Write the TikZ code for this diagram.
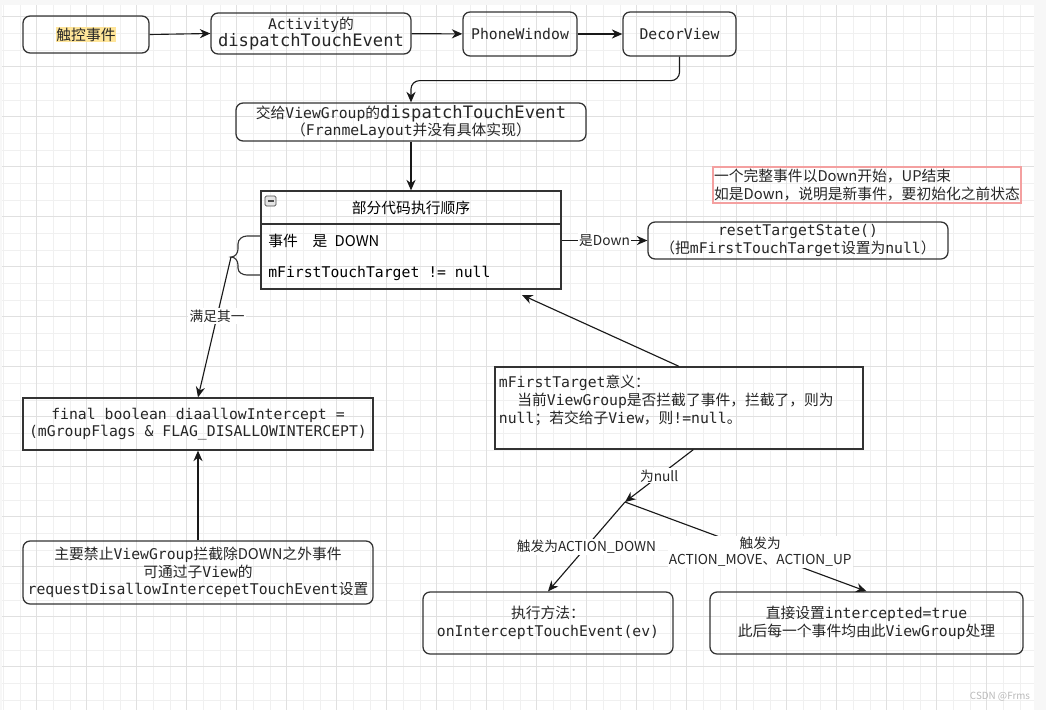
\documentclass[tikz,border=0pt]{standalone}
\usepackage{fontspec}
\setmainfont{Noto Sans CJK SC}
\setmonofont{DejaVu Sans Mono}
\usepackage{xcolor}
\usepackage{tikz}
\usetikzlibrary{arrows.meta,positioning,calc}
\definecolor{hl}{RGB}{255,229,153}
\definecolor{notered}{RGB}{244,160,160}
\definecolor{ln}{RGB}{51,51,51}
\newcommand{\bigtt}[1]{{\fontsize{12.2}{14}\selectfont\ttfamily #1}}

\begin{document}
\begin{tikzpicture}[
  x=0.025cm, y=-0.025cm,
  font=\fontsize{10.5}{12.5}\selectfont,
  box/.style={draw=ln, line width=0.9pt, inner sep=0pt, align=center, text=black!85},
  sz/.style 2 args={minimum width=#1*0.025cm, minimum height=#2*0.025cm},
  rbox/.style={box, rounded corners=5pt},
  sbox/.style={box},
  lbl/.style={fill=white, inner sep=1pt, text=black!85, align=center, font=\fontsize{9.75}{11.5}\selectfont},
  minorln/.style={gray!12, line width=0.5pt},
  majorln/.style={gray!24, line width=0.5pt},
  >={Stealth[length=7.5pt, width=6.5pt]},
  conn/.style={draw=black!90, line width=0.8pt},
]
% canvas
\path[use as bounding box, fill=gray!6] (0,0) rectangle (1046,710);
\fill[white] (2,5) rectangle (1034,710);
\foreach \i in {0,...,61} \draw[minorln] ({3.333+16.667*\i},5) -- ++(0,705);
\foreach \k in {1,...,42} \draw[minorln] (2,{16.667*\k}) -- ++(1032,0);
\foreach \i in {0,...,19} \draw[majorln] ({36.667+50*\i},5) -- ++(0,705);
\foreach \k in {0,...,13} \draw[majorln] (2,{16.667+50*\k}) -- ++(1032,0);

% top row
\node[rbox, sz={126}{37}] (touch) at (86,34.5) {{\fboxsep=0.5pt\colorbox{hl}{触控事件}}};
\node[rbox, sz={200}{41}] (act) at (311,33.5) {\texttt{Activity}的\\\bigtt{dispatchTouchEvent}};
\node[rbox, sz={114}{44}] (phone) at (520,34) {\texttt{PhoneWindow}};
\node[rbox, sz={113}{44}] (decor) at (679.5,34) {\texttt{DecorView}};
\node[rbox, sz={350}{38}] (vg) at (411,122)
  {交给\texttt{ViewGroup}的\bigtt{dispatchTouchEvent}\\（\texttt{FranmeLayout}并没有具体实现）};

% code order list
\node[sbox, sz={300}{98}] (list) at (411,240) {};
\draw[ln, line width=0.9pt] (list.west |- 0,224) -- (list.east |- 0,224);
\draw[gray!60!black, fill=gray!20, rounded corners=1pt, line width=0.5pt] (265,196) rectangle (276,206);
\draw[black!70, line width=0.8pt] (267.5,201) -- (273.5,201);
\node (lhead) at (411,208) {部分代码执行顺序};
\node[anchor=west, inner sep=0pt] (row1) at (268,241) {事件\quad 是\enspace DOWN};
\node[anchor=west, inner sep=0pt] (row2) at (268,273) {\texttt{mFirstTouchTarget != null}};

\node[rbox, sz={300}{37}] (reset) at (798,240.5)
  {\texttt{resetTargetState()}\\（把\texttt{mFirstTouchTarget}设置为\texttt{null}）};
\node[box, draw=notered, line width=1pt, align=left, sz={308}{36}] (note) at (867,185)
  {一个完整事件以Down开始，UP结束\\如是Down，说明是新事件，要初始化之前状态};

\node[sbox, sz={350}{52}] (final) at (198,424)
  {\texttt{final boolean diaallowIntercept =}\\\texttt{(mGroupFlags \& FLAG\_DISALLOWINTERCEPT)}};
\node[rbox, sz={350}{63}] (req) at (198,572.5)
  {主要禁止\texttt{ViewGroup}拦截除DOWN之外事件\\可通过子\texttt{View}的\\\texttt{requestDisallowIntercepetTouchEvent}设置};

\node[sbox, align=left, text width=9cm, sz={368}{82}] (mean) at (679,408)
  {\texttt{mFirstTarget}意义：\\\hspace*{1.25em}当前\texttt{ViewGroup}是否拦截了事件，拦截了，则为\\\texttt{null}；若交给子\texttt{View}，则\texttt{!=null}。\\ ~};

\node[rbox, sz={250}{62}] (onint) at (548,623) {执行方法：\\\texttt{onInterceptTouchEvent(ev)}};
\node[rbox, sz={313}{62}] (direct) at (866.5,623)
  {直接设置\texttt{intercepted=true}\\此后每一个事件均由此\texttt{ViewGroup}处理};

% brace
\coordinate (brtip) at (231,257);
\draw[ln, line width=0.8pt] (list.west |- 0,236) -- (247,236) to[out=180,in=90] (238,244) -- (238,249)
  to[out=-90,in=0] (brtip) to[out=0,in=90] (238,265) -- (238,268) to[out=-90,in=180] (247,275) -- (list.west |- 0,275);

% connectors
\draw[conn, ->] (touch.east) -- (act.west);
\draw[conn, ->] (act) -- (phone);
\draw[conn, ->] (phone) -- (decor);
\draw[conn, ->, rounded corners=6pt] (decor.south) -- ++(0,24) -| (vg.north);
\draw[conn, ->] (vg) -- (list);
\draw[conn, ->] (list.east |- reset.west) -- node[lbl] {是Down} (reset.west);
\draw[conn, ->] (brtip) -- node[lbl, pos=0.42] {满足其一} (final.north);
\draw[conn, ->] (req) -- (final);
\coordinate (lsink) at (522,295);
\draw[conn, ->] (mean.north) -- (lsink);
\coordinate (split) at (625,502);
\draw[conn, ->] (mean.-71) -- node[lbl] {为null} (split);
\draw[conn, ->] (split) -- node[lbl] {触发为ACTION\_DOWN} (onint.north);
\draw[conn, ->] (split) -- node[lbl, pos=0.56] {触发为\\ACTION\_MOVE、ACTION\_UP} (direct.north);

\node[text=gray!55, font=\fontsize{7}{8}\selectfont] (wm) at (1000,697) {CSDN @Frms};
\end{tikzpicture}
\end{document}
